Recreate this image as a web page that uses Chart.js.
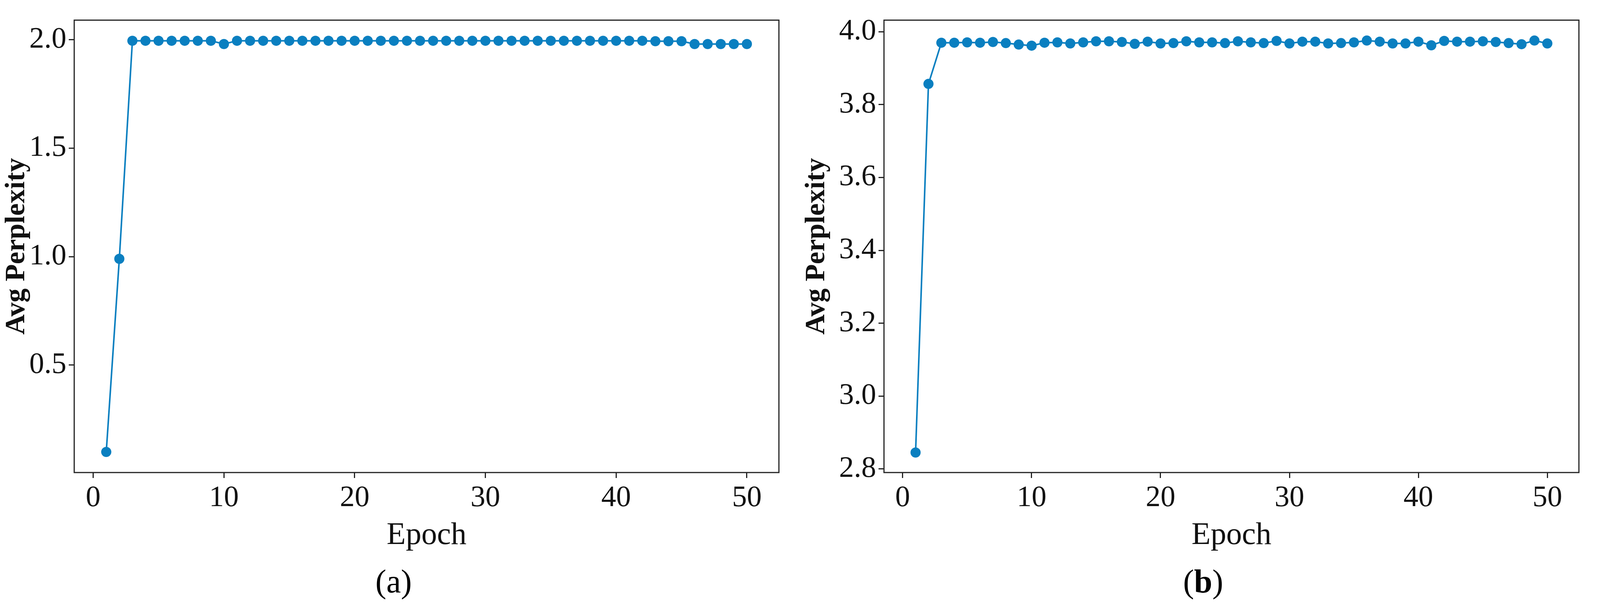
<!DOCTYPE html>
<html>
<head>
<meta charset="utf-8">
<script src="https://cdn.jsdelivr.net/npm/chart.js@4/dist/chart.umd.min.js"></script>
<style>
  html, body { margin: 0; background: #fff; width: 100vw; height: 100vh; overflow: hidden; }
  body { position: relative; }
  .box { position: absolute; top: 0; width: 50vw; height: 1420px; }
  .cap { position: absolute; top: 1440px; font-family: "Liberation Serif", serif; font-size: 84px; transform: translateX(-50%); }
</style>
</head>
<body>
<div class="box" style="left:0"><canvas id="chartA"></canvas></div>
<div class="box" style="left:50vw"><canvas id="chartB"></canvas></div>
<div class="cap" style="left:24.6vw">(a)</div>
<div class="cap" style="left:75.2vw">(<b>b</b>)</div>
<script>
// epochs 1..50
const epochs = [1,2,3,4,5,6,7,8,9,10,11,12,13,14,15,16,17,18,19,20,21,22,23,24,25,26,27,28,29,30,31,32,33,34,35,36,37,38,39,40,41,42,43,44,45,46,47,48,49,50];

const perplexityA = [0.10,0.99,1.995,1.995,1.995,1.995,1.995,1.995,1.995,1.98,
  1.995,1.995,1.995,1.995,1.995,1.995,1.995,1.995,1.995,1.995,
  1.995,1.995,1.995,1.995,1.995,1.995,1.995,1.995,1.995,1.995,
  1.995,1.995,1.995,1.995,1.995,1.995,1.995,1.995,1.995,1.995,
  1.995,1.995,1.993,1.993,1.993,1.98,1.98,1.98,1.98,1.98];

const perplexityB = [2.845,3.857,3.970,3.970,3.971,3.970,3.972,3.969,3.965,3.962,
  3.970,3.971,3.968,3.971,3.974,3.974,3.972,3.967,3.973,3.968,
  3.969,3.974,3.971,3.971,3.969,3.974,3.971,3.969,3.975,3.968,
  3.973,3.973,3.968,3.969,3.971,3.976,3.973,3.968,3.968,3.973,
  3.963,3.975,3.973,3.973,3.974,3.972,3.969,3.966,3.976,3.968];

const xTicks = [0,10,20,30,40,50];
const yTicksA = [0.5,1.0,1.5,2.0];
const yTicksB = [2.8,3.0,3.2,3.4,3.6,3.8,4.0];

const lineColor = '#0a7fc0';
const serif = '"Liberation Serif", "DejaVu Serif", serif';

const frame = {
  id: 'frame',
  afterDraw(chart) {
    const a = chart.chartArea, ctx = chart.ctx;
    ctx.save();
    ctx.strokeStyle = '#222';
    ctx.lineWidth = 3;
    ctx.strokeRect(a.left, a.top, a.right - a.left, a.bottom - a.top);
    ctx.restore();
  }
};

function makeChart(id, values, yMin, yMax, yTicks, yWidth) {
  const axisGrid = { drawOnChartArea: false, drawTicks: true, tickLength: 14, color: '#222', lineWidth: 3 };
  return new Chart(document.getElementById(id), {
    type: 'line',
    data: {
      datasets: [{
        data: epochs.map((e, i) => ({ x: e, y: values[i] })),
        borderColor: lineColor,
        backgroundColor: lineColor,
        borderWidth: 4,
        pointRadius: 13,
        pointBorderWidth: 0,
        tension: 0
      }]
    },
    options: {
      responsive: true,
      maintainAspectRatio: false,
      animation: false,
      layout: { padding: { top: 37, right: 54, left: 0, bottom: 0 } },
      plugins: { legend: { display: false }, tooltip: { enabled: false } },
      scales: {
        x: {
          type: 'linear', min: -1.45, max: 52.45,
          grid: axisGrid,
          border: { display: false },
          afterBuildTicks: s => { s.ticks = xTicks.map(v => ({ value: v })); },
          afterFit: s => { s.height = 210; },
          ticks: { color: '#111', font: { family: serif, size: 76 }, padding: 6, callback: v => v },
          title: { display: true, text: 'Epoch', color: '#111', font: { family: serif, size: 80 }, padding: 0 }
        },
        y: {
          min: yMin, max: yMax,
          grid: axisGrid,
          border: { display: false },
          afterBuildTicks: s => { s.ticks = yTicks.map(v => ({ value: v })); },
          afterFit: s => { s.width = yWidth; },
          ticks: { color: '#111', font: { family: serif, size: 76 }, padding: 6, callback: v => v.toFixed(1) },
          title: { display: true, text: 'Avg Perplexity', color: '#111', font: { family: serif, size: 72, weight: 'bold' }, padding: 0 }
        }
      }
    },
    plugins: [frame]
  });
}

makeChart('chartA', perplexityA, 0.005, 2.09, yTicksA, 190);
makeChart('chartB', perplexityB, 2.79, 4.032, yTicksB, 215);
</script>
</body>
</html>
